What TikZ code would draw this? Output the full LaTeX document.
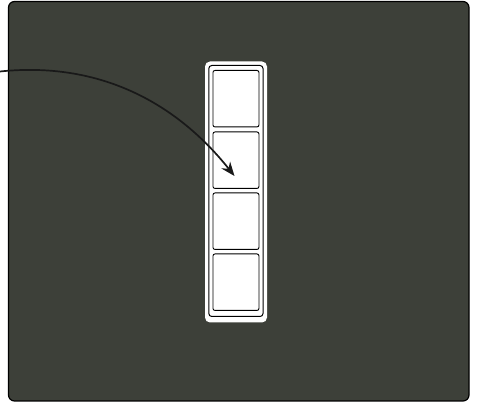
\documentclass[tikz,border=0pt]{standalone}
\usetikzlibrary{arrows.meta}
\definecolor{bgdark}{HTML}{3D4039}
\begin{document}
\begin{tikzpicture}[x=1pt,y=-1pt,
  cell/.style={draw=black,fill=white,line width=0.9pt,rounded corners=2pt,minimum width=46pt,minimum height=56.5pt,inner sep=0pt,anchor=north west},
  link/.style={draw=black!90,line width=1.7pt,-{Stealth[length=14pt,width=11pt]}}]
\useasboundingbox (0,0) rectangle (477,403);
\fill[bgdark,draw=black,line width=1.2pt,rounded corners=6pt] (8.5,1.5) rectangle (469,401);
\fill[white,rounded corners=5pt] (205,61.5) rectangle (267,322.5);
\draw[black,line width=1pt,rounded corners=3pt] (208.8,65.5) rectangle (263,316.5);
\node[cell] (b1) at (212.5,70) {};
\node[cell] (b2) at (212.5,131.5) {};
\node[cell] (b3) at (212.5,192.5) {};
\node[cell] (b4) at (212.5,253.5) {};
\coordinate (s) at (0,71.5);
\coordinate (t) at (234.5,176);
\draw[link] (s) .. controls (90,62) and (170,95) .. (t);
\end{tikzpicture}
\end{document}
